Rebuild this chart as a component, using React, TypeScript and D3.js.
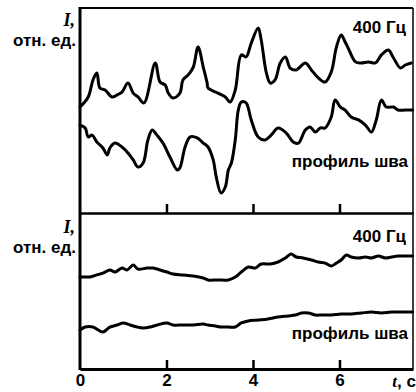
import { useEffect, useRef } from 'react';
import * as d3 from 'd3';

// t, s  /  I, rel. units (0..10 in each panel)
const TOP_400_T = [0, 0.19, 0.30, 0.39, 0.46, 0.58, 0.74, 0.86, 0.97, 1.11, 1.23, 1.34, 1.48, 1.74, 1.85, 1.97, 2.04, 2.15, 2.31, 2.38, 2.50, 2.62, 2.73, 2.85, 2.94, 2.96, 3.19, 3.36, 3.47, 3.59, 3.73, 3.84, 3.96, 4.12, 4.19, 4.31, 4.40, 4.51, 4.63, 4.75, 4.86, 5.00, 5.21, 5.35, 5.51, 5.67, 5.81, 5.93, 6.04, 6.13, 6.20, 6.37, 6.50, 6.67, 6.83, 6.97, 7.13, 7.25, 7.41, 7.52, 7.66];
const TOP_400_I = [5.17, 5.66, 6.49, 6.83, 6.10, 6.00, 5.66, 5.76, 5.90, 6.34, 5.85, 5.66, 5.37, 7.32, 6.39, 6.24, 5.85, 5.61, 5.85, 6.49, 6.73, 7.12, 8.10, 7.12, 6.34, 6.10, 5.85, 5.66, 5.41, 6.00, 7.71, 7.61, 8.29, 9.02, 8.44, 6.83, 6.34, 6.49, 7.32, 7.61, 7.07, 6.98, 7.32, 6.98, 6.59, 6.39, 6.88, 8.10, 8.68, 8.34, 8.05, 7.37, 7.32, 7.37, 7.32, 7.71, 7.95, 7.56, 7.07, 7.22, 7.32];

const TOP_SEAM_T = [0, 0.12, 0.19, 0.28, 0.39, 0.53, 0.63, 0.69, 0.81, 0.97, 1.11, 1.23, 1.34, 1.46, 1.57, 1.67, 1.78, 1.92, 2.08, 2.25, 2.31, 2.43, 2.55, 2.71, 2.85, 2.96, 3.08, 3.15, 3.26, 3.36, 3.43, 3.50, 3.59, 3.66, 3.73, 3.84, 3.96, 4.12, 4.28, 4.42, 4.58, 4.77, 4.93, 5.05, 5.21, 5.32, 5.44, 5.56, 5.67, 5.81, 5.90, 6.02, 6.13, 6.27, 6.44, 6.60, 6.74, 6.85, 6.97, 7.08, 7.25, 7.36, 7.52, 7.69];
const TOP_SEAM_I = [4.29, 4.15, 3.71, 3.80, 3.46, 3.17, 2.83, 3.17, 3.41, 3.22, 2.93, 2.59, 2.24, 2.44, 3.56, 4.05, 3.80, 3.41, 2.73, 2.10, 2.20, 3.22, 3.71, 3.66, 3.41, 3.22, 2.59, 1.76, 0.98, 1.27, 2.10, 2.44, 3.56, 5.02, 5.41, 5.37, 4.54, 3.71, 3.56, 3.80, 4.15, 3.90, 3.46, 3.41, 4.05, 4.20, 3.95, 4.15, 4.15, 4.68, 5.51, 5.17, 5.02, 4.68, 4.54, 4.29, 3.95, 4.54, 5.51, 5.17, 5.17, 5.02, 5.02, 5.02];

const BOT_400_T = [0, 0.12, 0.23, 0.39, 0.53, 0.69, 0.81, 0.97, 1.09, 1.23, 1.34, 1.55, 1.69, 1.85, 2.01, 2.15, 2.38, 2.62, 2.85, 2.96, 3.19, 3.43, 3.59, 3.73, 3.89, 4.05, 4.19, 4.40, 4.58, 4.75, 4.88, 5.00, 5.16, 5.35, 5.51, 5.67, 5.81, 5.93, 6.04, 6.16, 6.27, 6.44, 6.60, 6.74, 6.90, 7.06, 7.20, 7.36, 7.52, 7.69];
const BOT_400_I = [5.90, 5.90, 5.90, 6.03, 6.15, 6.35, 6.22, 6.47, 6.35, 6.67, 6.41, 6.47, 6.47, 6.35, 6.22, 6.09, 6.03, 5.96, 5.83, 5.71, 5.71, 5.71, 5.90, 6.22, 6.54, 6.47, 6.73, 6.73, 6.86, 7.12, 7.37, 7.18, 7.12, 6.99, 6.86, 6.79, 6.60, 6.79, 6.99, 7.31, 7.18, 7.12, 7.18, 7.12, 7.24, 7.12, 7.18, 7.24, 7.24, 7.24];

const BOT_SEAM_T = [0, 0.12, 0.30, 0.53, 0.69, 0.86, 1.00, 1.16, 1.32, 1.46, 1.62, 1.78, 2.01, 2.15, 2.38, 2.62, 2.85, 2.96, 3.13, 3.26, 3.43, 3.59, 3.73, 3.89, 4.12, 4.35, 4.58, 4.81, 4.98, 5.12, 5.28, 5.44, 5.58, 5.81, 6.04, 6.27, 6.50, 6.74, 6.97, 7.20, 7.43, 7.69];
const BOT_SEAM_I = [2.50, 2.69, 2.69, 2.37, 2.69, 2.82, 2.95, 2.82, 2.69, 2.63, 2.69, 2.82, 2.95, 2.82, 2.82, 2.82, 2.88, 2.82, 2.76, 2.69, 2.69, 2.69, 2.95, 3.08, 3.14, 3.21, 3.33, 3.40, 3.46, 3.59, 3.59, 3.46, 3.46, 3.46, 3.53, 3.53, 3.59, 3.65, 3.59, 3.65, 3.65, 3.65];

const X_TICKS = [0, 2, 4, 6];

const toPoints = (t: number[], v: number[]) => t.map((d, i) => ({ t: d, v: v[i] }));

export default function App() {
  const ref = useRef<SVGSVGElement | null>(null);

  useEffect(() => {
    if (!ref.current) return;
    const svg = d3.select(ref.current);
    svg.selectAll('*').remove();

    const left = 80;
    const right = 413;
    const top = 8;
    const mid = 213;
    const bottom = 369;

    const x = d3.scaleLinear().domain([0, 7.7]).range([left, right]);
    const yTop = d3.scaleLinear().domain([0, 10]).range([mid, top]);
    const yBot = d3.scaleLinear().domain([0, 10]).range([bottom, mid]);

    const font = '"Liberation Sans", Arial, sans-serif';

    // Frame
    const frame = svg.append('g').attr('stroke', '#000').attr('fill', 'none');
    frame.append('line').attr('x1', left).attr('x2', right).attr('y1', top).attr('y2', top).attr('stroke-width', 2);
    frame.append('line').attr('x1', right).attr('x2', right).attr('y1', top).attr('y2', bottom).attr('stroke-width', 1.5);
    frame.append('line').attr('x1', left).attr('x2', left).attr('y1', top - 1).attr('y2', bottom + 1).attr('stroke-width', 3);

    // Divider with ticks pointing up
    const mAxis = svg.append('g')
      .attr('transform', `translate(0,${mid})`)
      .call(d3.axisBottom(x).tickValues(X_TICKS.filter(d => d > 0)).tickSizeInner(-9).tickSizeOuter(0).tickFormat(() => ''));
    mAxis.select('.domain').attr('stroke-width', 2.5);
    mAxis.selectAll('.tick line').attr('stroke-width', 2.5);

    // Bottom axis
    const bAxis = svg.append('g')
      .attr('transform', `translate(0,${bottom})`)
      .call(d3.axisBottom(x).tickValues(X_TICKS).tickSizeInner(-9).tickSizeOuter(0).tickPadding(5).tickFormat(d3.format('d')));
    bAxis.select('.domain').attr('stroke-width', 3);
    bAxis.selectAll('.tick line').attr('stroke-width', 2.5);
    bAxis.selectAll('.tick')
      .filter((d: any) => d === 0)
      .select('line').remove();
    bAxis.selectAll('.tick text')
      .attr('font-family', font)
      .attr('font-weight', 'bold')
      .attr('font-size', 17)
      .attr('fill', '#000');

    const tLabel = svg.append('text')
      .attr('x', 416)
      .attr('y', 387)
      .attr('text-anchor', 'end')
      .attr('font-family', font)
      .attr('font-weight', 'bold')
      .attr('font-size', 17);
    tLabel.append('tspan').attr('font-family', '"Liberation Serif", serif').attr('font-style', 'italic').text('t');
    tLabel.append('tspan').text(', c');

    // Curves
    const drawLine = (pts: { t: number; v: number }[], y: d3.ScaleLinear<number, number>) => {
      const line = d3.line<{ t: number; v: number }>()
        .x(d => x(d.t))
        .y(d => y(d.v))
        .curve(d3.curveCatmullRom.alpha(0.5));
      svg.append('path')
        .datum(pts)
        .attr('fill', 'none')
        .attr('stroke', '#000')
        .attr('stroke-width', 3)
        .attr('stroke-linejoin', 'round')
        .attr('stroke-linecap', 'round')
        .attr('d', line);
    };
    drawLine(toPoints(TOP_400_T, TOP_400_I), yTop);
    drawLine(toPoints(TOP_SEAM_T, TOP_SEAM_I), yTop);
    drawLine(toPoints(BOT_400_T, BOT_400_I), yBot);
    drawLine(toPoints(BOT_SEAM_T, BOT_SEAM_I), yBot);

    // Panel labels
    const labels = [
      { x: 406, y: 33, text: '400 Гц', anchor: 'end' },
      { x: 408, y: 167, text: 'профиль шва', anchor: 'end' },
      { x: 406, y: 242, text: '400 Гц', anchor: 'end' },
      { x: 408, y: 339, text: 'профиль шва', anchor: 'end' },
      { x: 76, y: 46, text: 'отн. ед.', anchor: 'end' },
      { x: 76, y: 253, text: 'отн. ед.', anchor: 'end' },
    ];
    labels.forEach(l => {
      svg.append('text')
        .attr('x', l.x)
        .attr('y', l.y)
        .attr('text-anchor', l.anchor)
        .attr('font-family', font)
        .attr('font-weight', 'bold')
        .attr('font-size', 17)
        .text(l.text);
    });

    // Y axis symbol
    [26, 233].forEach(yy => {
      svg.append('text')
        .attr('x', 75)
        .attr('y', yy)
        .attr('text-anchor', 'end')
        .attr('font-family', '"Liberation Serif", serif')
        .attr('font-style', 'italic')
        .attr('font-weight', 'bold')
        .attr('font-size', 18)
        .text('I,');
    });
  }, []);

  return (
    <svg
      ref={ref}
      width={416}
      height={392}
      style={{ position: 'absolute', left: 0, top: 0, background: '#fff' }}
    />
  );
}
